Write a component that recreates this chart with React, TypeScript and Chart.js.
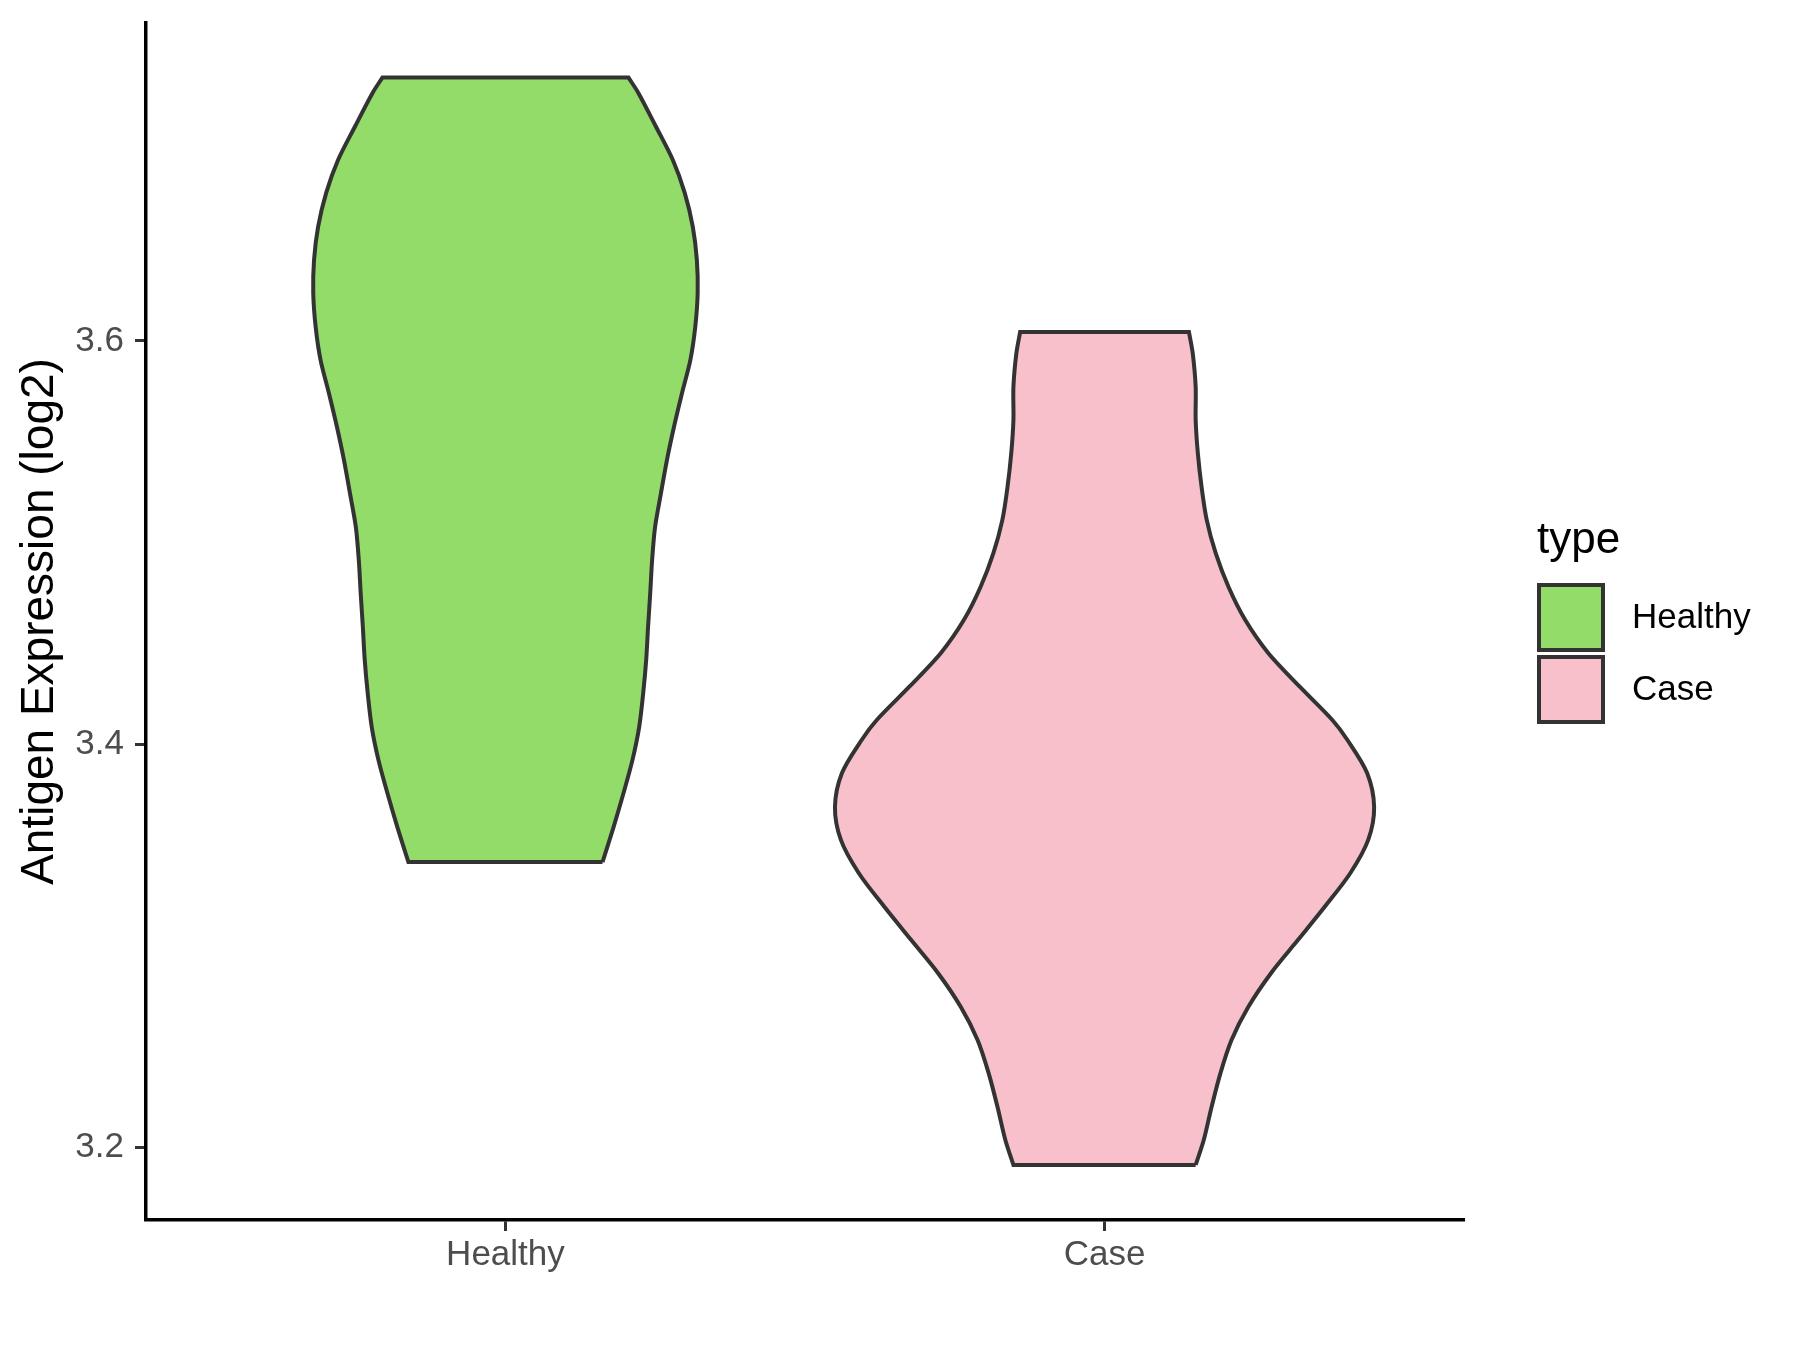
import React, { useEffect, useRef } from 'react';
import { Chart, registerables } from 'chart.js';

Chart.register(...registerables);

// ---- data ----
const categories = ['Healthy', 'Case'];

// Healthy violin: expression values (bottom -> top) and relative density width
const healthyValues = [
  3.3414, 3.3588, 3.3757, 3.392, 3.4084, 3.4253, 3.4417, 3.4581, 3.4749, 3.4913,
  3.5077, 3.5246, 3.5409, 3.5573, 3.5742, 3.5906, 3.6069, 3.6238, 3.6402, 3.6566,
  3.6735, 3.6898, 3.7062, 3.7231, 3.7308,
];
const healthyDensity = [
  0.36, 0.401, 0.438, 0.471, 0.496, 0.511, 0.522, 0.529, 0.537, 0.544,
  0.555, 0.577, 0.599, 0.625, 0.655, 0.686, 0.704, 0.713, 0.71, 0.695,
  0.665, 0.621, 0.559, 0.493, 0.456,
];

// Case violin
const caseValues = [
  3.1911, 3.2035, 3.2199, 3.2367, 3.2531, 3.2695, 3.2864, 3.3027, 3.3191, 3.336,
  3.3524, 3.3687, 3.3856, 3.402, 3.4119, 3.4283, 3.4452, 3.4615, 3.4779, 3.4948,
  3.5112, 3.5275, 3.5444, 3.5608, 3.5772, 3.594, 3.6045,
];
const caseDensity = [
  0.338, 0.368, 0.397, 0.43, 0.471, 0.533, 0.618, 0.717, 0.816, 0.912,
  0.978, 1.0, 0.974, 0.901, 0.845, 0.725, 0.607, 0.522, 0.46, 0.412,
  0.379, 0.36, 0.346, 0.338, 0.338, 0.327, 0.313,
];

const yTicks = [3.2, 3.4, 3.6];
const yMin = 3.1638;
const yMax = 3.7578;

const fillColors = ['#94DC6A', '#F7C0CB'];
const outlineColor = '#333333';
const legendTitle = 'type';
const yTitle = 'Antigen Expression (log2)';

const FONT = "'Liberation Sans', Arial, Helvetica, sans-serif";

// Closed outline: right side bottom->top, left side top->bottom.
// Corner points are repeated so the spline keeps sharp corners and straight ends.
function violinOutline(center: number, values: number[], density: number[], halfWidth: number) {
  const right = values.map((v, i) => ({ x: center + density[i] * halfWidth, y: v }));
  const left = values.map((v, i) => ({ x: center - density[i] * halfWidth, y: v })).reverse();
  const n = right.length;
  return [
    right[0],
    ...right,
    right[n - 1],
    left[0],
    ...left,
    left[n - 1],
    right[0],
    right[0],
  ];
}

const legendPlugin = {
  id: 'ggLegend',
  afterDraw(chart: any) {
    const ctx = chart.ctx;
    ctx.save();
    ctx.fillStyle = '#000000';
    ctx.font = `44px ${FONT}`;
    ctx.textAlign = 'left';
    ctx.textBaseline = 'alphabetic';
    ctx.fillText(legendTitle, 1537, 553);
    chart.data.datasets.forEach((ds: any, i: number) => {
      const top = 585 + i * 72;
      ctx.fillStyle = ds.backgroundColor;
      ctx.fillRect(1539, top, 64, 65);
      ctx.strokeStyle = outlineColor;
      ctx.lineWidth = 4;
      ctx.strokeRect(1539, top, 64, 65);
      ctx.fillStyle = '#000000';
      ctx.font = `35px ${FONT}`;
      ctx.textBaseline = 'middle';
      ctx.fillText(ds.label, 1632, top + 33);
    });
    ctx.restore();
  },
};

export default function App() {
  const canvasRef = useRef<HTMLCanvasElement | null>(null);

  useEffect(() => {
    if (!canvasRef.current) return;
    Chart.defaults.font.family = FONT;
    const halfWidth = 0.45;
    const chart = new Chart(canvasRef.current, {
      type: 'line',
      data: {
        datasets: [
          {
            label: categories[0],
            data: violinOutline(0, healthyValues, healthyDensity, halfWidth),
            backgroundColor: fillColors[0],
            borderColor: outlineColor,
            borderWidth: 4,
            fill: 'shape',
            tension: 0.3,
            pointRadius: 0,
            borderJoinStyle: 'miter',
          },
          {
            label: categories[1],
            data: violinOutline(1, caseValues, caseDensity, halfWidth),
            backgroundColor: fillColors[1],
            borderColor: outlineColor,
            borderWidth: 4,
            fill: 'shape',
            tension: 0.3,
            pointRadius: 0,
            borderJoinStyle: 'miter',
          },
        ],
      },
      options: {
        responsive: false,
        animation: false,
        layout: { padding: { top: 23, right: 336, bottom: 0, left: 0 } },
        plugins: {
          legend: { display: false },
          tooltip: { enabled: false },
        },
        scales: {
          x: {
            type: 'linear',
            min: -0.6,
            max: 1.6,
            afterBuildTicks: (scale: any) => {
              scale.ticks = categories.map((_, i) => ({ value: i }));
            },
            afterFit: (scale: any) => {
              scale.height = 130;
              scale.paddingLeft = 0;
              scale.paddingRight = 0;
              scale.paddingTop = 0;
              scale.paddingBottom = 0;
            },
            ticks: {
              callback: (v: any) => categories[v] ?? '',
              color: '#4D4D4D',
              font: { size: 35 },
              padding: 3,
              maxRotation: 0,
              autoSkip: false,
            },
            grid: {
              display: true,
              drawOnChartArea: false,
              drawTicks: true,
              tickLength: 11,
              tickWidth: 3,
              tickColor: '#333333',
            },
            border: { display: true, color: '#000000', width: 3.5 },
            title: { display: false },
          },
          y: {
            type: 'linear',
            min: yMin,
            max: yMax,
            afterBuildTicks: (scale: any) => {
              scale.ticks = yTicks.map((v) => ({ value: v }));
            },
            afterFit: (scale: any) => {
              scale.width = 146;
              scale.paddingLeft = 0;
              scale.paddingRight = 0;
              scale.paddingTop = 0;
              scale.paddingBottom = 0;
            },
            ticks: {
              callback: (v: any) => Number(v).toFixed(1),
              color: '#4D4D4D',
              font: { size: 35 },
              padding: 11,
            },
            grid: {
              display: true,
              drawOnChartArea: false,
              drawTicks: true,
              tickLength: 11,
              tickWidth: 3,
              tickColor: '#333333',
            },
            border: { display: true, color: '#000000', width: 3.5 },
            title: {
              display: true,
              text: yTitle,
              color: '#000000',
              font: { size: 46 },
              padding: { top: 13, bottom: 0 },
            },
          },
        },
      },
      plugins: [legendPlugin],
    } as any);
    return () => chart.destroy();
  }, []);

  return (
    <div style={{ position: 'absolute', left: 0, top: 0, width: 1800, height: 1350, background: '#ffffff' }}>
      <canvas ref={canvasRef} width={1800} height={1350} style={{ display: 'block' }} />
    </div>
  );
}
